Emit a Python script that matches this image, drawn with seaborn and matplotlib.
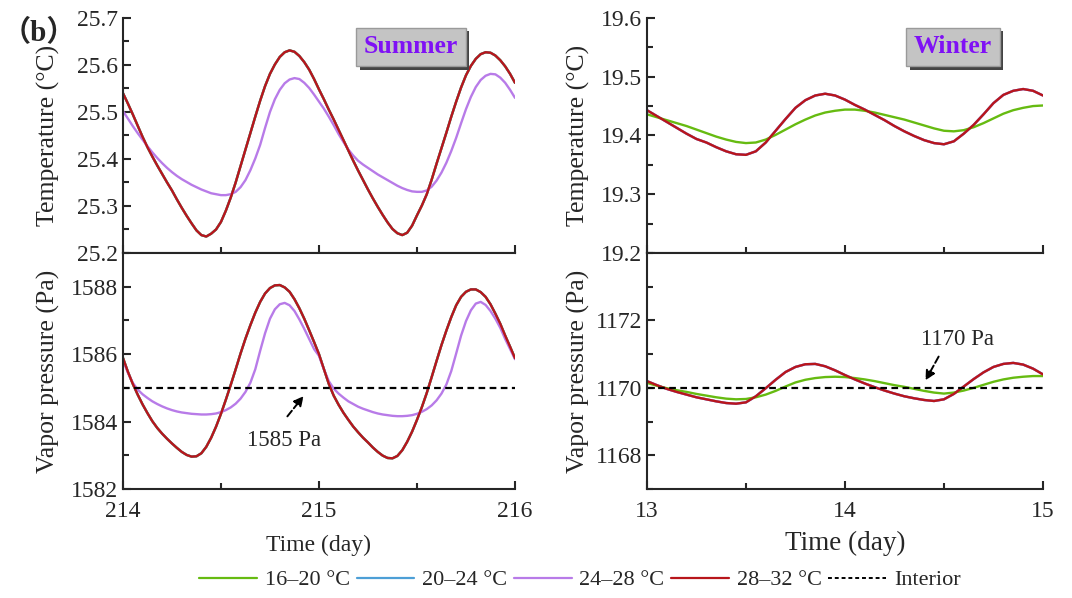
import matplotlib
matplotlib.use('Agg')
import matplotlib.pyplot as plt
import matplotlib.patheffects as pe
from matplotlib.lines import Line2D
from matplotlib.ticker import MultipleLocator
import seaborn as sns
import numpy as np

# ---- data ----
# sampling grids (summer every 0.025 day, winter every 0.05 day)
days_summer = np.round(np.linspace(214, 216, 81), 3)
days_winter = np.round(np.linspace(13, 15, 41), 3)

# summer temperature: 16-20, 20-24 and 28-32 overlap
temp_summer_2832 = [25.540, 25.518, 25.495, 25.471, 25.447, 25.425, 25.405, 25.386, 25.368, 25.350,
                    25.333, 25.314, 25.296, 25.279, 25.263, 25.248, 25.238, 25.235, 25.241, 25.250,
                    25.266, 25.290, 25.318, 25.350, 25.385, 25.420, 25.455, 25.490, 25.524, 25.555,
                    25.581, 25.601, 25.617, 25.627, 25.631, 25.628, 25.619, 25.606, 25.590, 25.570,
                    25.548, 25.527, 25.505, 25.484, 25.462, 25.440, 25.418, 25.396, 25.375, 25.355,
                    25.335, 25.316, 25.298, 25.281, 25.265, 25.251, 25.242, 25.238, 25.243, 25.258,
                    25.280, 25.301, 25.325, 25.356, 25.390, 25.423, 25.456, 25.490, 25.522, 25.552,
                    25.578, 25.598, 25.613, 25.623, 25.627, 25.626, 25.620, 25.610, 25.597, 25.581,
                    25.562]
temp_summer_1620 = list(temp_summer_2832)
temp_summer_2024 = list(temp_summer_2832)
temp_summer_2428 = [25.502, 25.486, 25.470, 25.455, 25.441, 25.427, 25.414, 25.402, 25.391, 25.381,
                    25.372, 25.364, 25.357, 25.351, 25.345, 25.340, 25.335, 25.331, 25.327, 25.325,
                    25.323, 25.323, 25.325, 25.330, 25.340, 25.355, 25.376, 25.401, 25.430, 25.466,
                    25.500, 25.527, 25.547, 25.561, 25.569, 25.572, 25.570, 25.562, 25.551, 25.537,
                    25.522, 25.507, 25.490, 25.472, 25.453, 25.436, 25.420, 25.407, 25.396, 25.388,
                    25.381, 25.374, 25.367, 25.361, 25.355, 25.349, 25.343, 25.338, 25.334, 25.331,
                    25.330, 25.330, 25.333, 25.341, 25.354, 25.371, 25.392, 25.417, 25.445, 25.476,
                    25.506, 25.532, 25.553, 25.568, 25.577, 25.581, 25.580, 25.573, 25.562, 25.547,
                    25.530]

vp_summer_2832 = [1585.89, 1585.48, 1585.12, 1584.80, 1584.51, 1584.25, 1584.01, 1583.81, 1583.64, 1583.49,
                  1583.35, 1583.22, 1583.10, 1583.01, 1582.96, 1582.97, 1583.06, 1583.25, 1583.52, 1583.85,
                  1584.23, 1584.65, 1585.09, 1585.55, 1586.02, 1586.46, 1586.86, 1587.23, 1587.55, 1587.80,
                  1587.96, 1588.04, 1588.05, 1587.98, 1587.85, 1587.63, 1587.36, 1587.05, 1586.71, 1586.36,
                  1586.00, 1585.56, 1585.12, 1584.77, 1584.50, 1584.26, 1584.05, 1583.85, 1583.68, 1583.52,
                  1583.38, 1583.23, 1583.10, 1582.99, 1582.92, 1582.91, 1582.98, 1583.15, 1583.40, 1583.70,
                  1584.05, 1584.43, 1584.85, 1585.32, 1585.80, 1586.27, 1586.70, 1587.10, 1587.45, 1587.70,
                  1587.85, 1587.92, 1587.92, 1587.84, 1587.70, 1587.48, 1587.20, 1586.90, 1586.55, 1586.22,
                  1585.88]
vp_summer_1620 = list(vp_summer_2832)
vp_summer_2024 = list(vp_summer_2832)
vp_summer_2428 = [1585.82, 1585.45, 1585.15, 1584.95, 1584.81, 1584.70, 1584.60, 1584.52, 1584.45, 1584.39,
                  1584.34, 1584.30, 1584.27, 1584.25, 1584.23, 1584.22, 1584.21, 1584.21, 1584.22, 1584.24,
                  1584.28, 1584.34, 1584.42, 1584.53, 1584.68, 1584.88, 1585.15, 1585.55, 1586.10, 1586.62,
                  1587.05, 1587.33, 1587.48, 1587.52, 1587.45, 1587.28, 1587.03, 1586.75, 1586.45, 1586.15,
                  1585.95, 1585.55, 1585.20, 1584.98, 1584.83, 1584.71, 1584.60, 1584.52, 1584.44, 1584.38,
                  1584.33, 1584.28, 1584.24, 1584.21, 1584.19, 1584.17, 1584.16, 1584.16, 1584.17, 1584.19,
                  1584.23, 1584.29, 1584.37, 1584.48, 1584.63, 1584.83, 1585.10, 1585.50, 1586.02, 1586.55,
                  1586.98, 1587.30, 1587.50, 1587.55, 1587.46, 1587.28, 1587.05, 1586.78, 1586.45, 1586.15,
                  1585.85]

# winter: 20-24, 24-28 and 28-32 overlap
temp_winter_1620 = [19.436, 19.431, 19.426, 19.421, 19.416, 19.410, 19.404, 19.398, 19.393, 19.389,
                    19.387, 19.388, 19.393, 19.401, 19.410, 19.419, 19.427, 19.434, 19.439, 19.442,
                    19.444, 19.444, 19.442, 19.439, 19.435, 19.431, 19.427, 19.422, 19.417, 19.412,
                    19.408, 19.407, 19.409, 19.414, 19.421, 19.429, 19.437, 19.443, 19.447, 19.450,
                    19.451]
temp_winter_2832 = [19.443, 19.433, 19.423, 19.413, 19.403, 19.394, 19.388, 19.380, 19.373, 19.368,
                    19.367, 19.373, 19.388, 19.408, 19.428, 19.447, 19.460, 19.468, 19.471, 19.468,
                    19.461, 19.452, 19.444, 19.435, 19.426, 19.416, 19.407, 19.399, 19.392, 19.387,
                    19.385, 19.390, 19.403, 19.418, 19.436, 19.455, 19.469, 19.476, 19.479, 19.476,
                    19.468]
temp_winter_2024 = list(temp_winter_2832)
temp_winter_2428 = list(temp_winter_2832)

vp_winter_1620 = [1170.15, 1170.06, 1169.99, 1169.93, 1169.88, 1169.82, 1169.77, 1169.72, 1169.68, 1169.66,
                  1169.67, 1169.72, 1169.80, 1169.91, 1170.04, 1170.16, 1170.24, 1170.29, 1170.32, 1170.33,
                  1170.32, 1170.29, 1170.25, 1170.20, 1170.14, 1170.08, 1170.03, 1169.97, 1169.91, 1169.86,
                  1169.83, 1169.86, 1169.92, 1170.00, 1170.09, 1170.18, 1170.25, 1170.30, 1170.33, 1170.35,
                  1170.35]
vp_winter_2832 = [1170.20, 1170.08, 1169.97, 1169.88, 1169.80, 1169.72, 1169.66, 1169.60, 1169.55, 1169.53,
                  1169.57, 1169.75, 1169.99, 1170.24, 1170.47, 1170.62, 1170.70, 1170.71, 1170.64, 1170.52,
                  1170.38, 1170.25, 1170.13, 1170.02, 1169.92, 1169.83, 1169.75, 1169.69, 1169.64, 1169.61,
                  1169.66, 1169.82, 1170.04, 1170.26, 1170.46, 1170.62, 1170.71, 1170.74, 1170.69, 1170.57,
                  1170.40]
vp_winter_2024 = list(vp_winter_2832)
vp_winter_2428 = list(vp_winter_2832)

interior_summer = 1585
interior_winter = 1170

labels = ['16–20 °C', '20–24 °C', '24–28 °C', '28–32 °C']
colors = ['#66bb11', '#4d9fd6', '#b87be8', '#b8161b']

# ---- style ----
sns.set_style('ticks')
plt.rcParams['font.family'] = ['Liberation Serif', 'Noto Sans CJK SC']
plt.rcParams['axes.linewidth'] = 1.5
plt.rcParams['xtick.direction'] = 'in'
plt.rcParams['ytick.direction'] = 'in'
for k in ['xtick.major.width', 'ytick.major.width', 'xtick.minor.width', 'ytick.minor.width']:
    plt.rcParams[k] = 1.5
plt.rcParams['xtick.major.size'] = 6
plt.rcParams['ytick.major.size'] = 6
plt.rcParams['xtick.minor.size'] = 4
plt.rcParams['ytick.minor.size'] = 4

fig = plt.figure(figsize=(10.72, 5.98), dpi=100)
ax_st = fig.add_axes([0.1147, 0.577, 0.3657, 0.393])
ax_sv = fig.add_axes([0.1147, 0.1823, 0.3657, 0.3946])
ax_wt = fig.add_axes([0.6035, 0.577, 0.3694, 0.393])
ax_wv = fig.add_axes([0.6035, 0.1823, 0.3694, 0.3946])

summer_t = [temp_summer_1620, temp_summer_2024, temp_summer_2428, temp_summer_2832]
summer_v = [vp_summer_1620, vp_summer_2024, vp_summer_2428, vp_summer_2832]
winter_t = [temp_winter_1620, temp_winter_2024, temp_winter_2428, temp_winter_2832]
winter_v = [vp_winter_1620, vp_winter_2024, vp_winter_2428, vp_winter_2832]

for ser, c in zip(summer_t, colors):
    sns.lineplot(x=days_summer, y=ser, color=c, lw=1.7, ax=ax_st)
for ser, c in zip(summer_v, colors):
    sns.lineplot(x=days_summer, y=ser, color=c, lw=1.7, ax=ax_sv)
# winter: green drawn after the overlapping group, red on top
for i in [1, 2, 0, 3]:
    sns.lineplot(x=days_winter, y=winter_t[i], color=colors[i], lw=1.7, ax=ax_wt)
    sns.lineplot(x=days_winter, y=winter_v[i], color=colors[i], lw=1.7, ax=ax_wv)

ax_sv.axhline(interior_summer, color='black', ls=(0, (3, 2)), lw=1.6)
ax_wv.axhline(interior_winter, color='black', ls=(0, (3, 2)), lw=1.6)

# ---- axes formatting ----
for ax in [ax_st, ax_wt]:
    ax.spines['top'].set_visible(False)
    ax.spines['right'].set_visible(False)
    ax.tick_params(labelbottom=False)
for ax in [ax_sv, ax_wv]:
    ax.spines['right'].set_visible(False)
    ax.tick_params(axis='x', which='major', pad=9)

ax_st.set_xlim(214, 216)
ax_sv.set_xlim(214, 216)
ax_wt.set_xlim(13, 15)
ax_wv.set_xlim(13, 15)
for ax in [ax_st, ax_sv, ax_wt, ax_wv]:
    ax.xaxis.set_major_locator(MultipleLocator(1))
    ax.xaxis.set_minor_locator(MultipleLocator(0.5))
    ax.tick_params(axis='both', which='major', labelsize=17)

ax_st.set_ylim(25.2, 25.7)
ax_st.yaxis.set_major_locator(MultipleLocator(0.1))
ax_st.yaxis.set_minor_locator(MultipleLocator(0.05))
ax_wt.set_ylim(19.2, 19.6)
ax_wt.yaxis.set_major_locator(MultipleLocator(0.1))
ax_wt.yaxis.set_minor_locator(MultipleLocator(0.05))
ax_sv.set_ylim(1582, 1589)
ax_sv.yaxis.set_major_locator(MultipleLocator(2))
ax_sv.yaxis.set_minor_locator(MultipleLocator(1))
ax_wv.set_ylim(1167, 1174)
ax_wv.set_yticks([1168, 1170, 1172])
ax_wv.yaxis.set_minor_locator(MultipleLocator(1))

ax_st.set_ylabel('Temperature (°C)', fontsize=18.5, labelpad=12)
ax_sv.set_ylabel('Vapor pressure (Pa)', fontsize=18.5, labelpad=8)
ax_wt.set_ylabel('Temperature (°C)', fontsize=18.5, labelpad=8)
ax_wv.set_ylabel('Vapor pressure (Pa)', fontsize=18.5, labelpad=4)
ax_sv.set_xlabel('Time (day)', fontsize=17, labelpad=9)
ax_wv.set_xlabel('Time (day)', fontsize=19.5, labelpad=6)
ax_st.set_xlabel('')
ax_wt.set_xlabel('')

# season boxes
for ax, txt, xp in [(ax_st, 'Summer', 0.735), (ax_wt, 'Winter', 0.773)]:
    t = ax.text(xp, 0.877, txt, transform=ax.transAxes, ha='center', va='center',
                fontsize=18.5, fontweight='bold', color='#7f11f5',
                bbox=dict(boxstyle='square,pad=0.3', facecolor='#c4c4c4', edgecolor='#9a9a9a', lw=1))
    t.get_bbox_patch().set_path_effects([
        pe.SimplePatchShadow(offset=(2.5, -2.5), shadow_rgbFace='#444444', alpha=1.0), pe.Normal()])

# annotations
ax_sv.annotate('', xy=(214.93, 1584.82), xytext=(214.83, 1584.09),
               arrowprops=dict(arrowstyle='-|>', ls='--', color='black', lw=1.4, mutation_scale=14))
ax_sv.text(214.82, 1583.44, '1585 Pa', ha='center', va='center', fontsize=16.5)
ax_wv.annotate('', xy=(14.40, 1170.15), xytext=(14.48, 1171.0),
               arrowprops=dict(arrowstyle='-|>', ls='--', color='black', lw=1.4, mutation_scale=14))
ax_wv.text(14.57, 1171.44, '1170 Pa', ha='center', va='center', fontsize=16.5)

fig.text(0.036, 0.945, '（b）', ha='center', va='center', fontsize=21, fontweight='bold')

# legend
handles = [Line2D([], [], color=c, lw=1.6) for c in colors]
handles.append(Line2D([], [], color='black', lw=1.4, ls=(0, (2, 1.5))))
fig.legend(handles, labels + ['Interior'], loc='center', bbox_to_anchor=(0.541, 0.03), ncol=5,
           frameon=False, fontsize=16, handlelength=2.6, handletextpad=0.35, columnspacing=0.3)

fig.savefig('out.png', dpi=100)
